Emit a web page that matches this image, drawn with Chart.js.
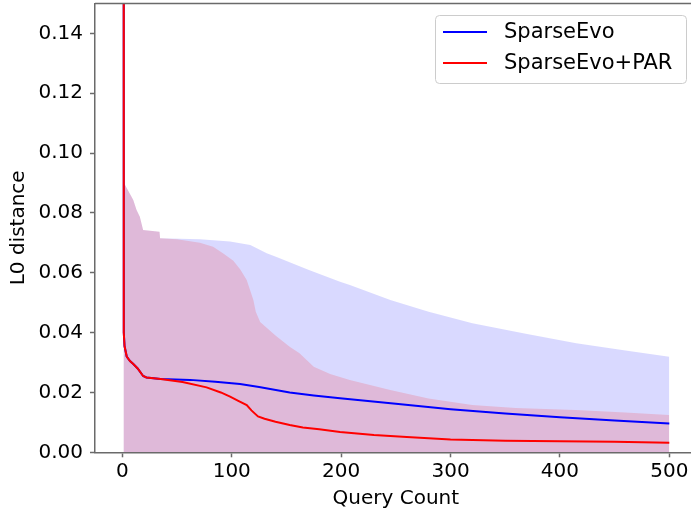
<!DOCTYPE html>
<html>
<head>
<meta charset="utf-8">
<script src="https://cdn.jsdelivr.net/npm/chart.js@4/dist/chart.umd.min.js"></script>
<style>
  html, body { margin: 0; padding: 0; background: #fff; overflow: hidden; }
  #wrap { width: 700px; height: 516px; }
</style>
</head>
<body>
<div id="wrap"><canvas id="c" width="700" height="516"></canvas></div>
<script>
// ---- Data ----
const seriesNames = ["SparseEvo", "SparseEvo+PAR"];
const xTicks = [0, 100, 200, 300, 400, 500];
const yTicks = [0, 0.02, 0.04, 0.06, 0.08, 0.10, 0.12, 0.14];

// SparseEvo+PAR mean curve
const parX    = [1, 1.3, 2, 4, 7, 10, 14, 19, 22, 35, 55, 77, 90, 98.5, 106, 113.7, 118, 124, 130, 140, 153, 165, 180, 199, 230, 260, 300, 350, 400, 450, 500];
const parMean = [0.6, 0.040, 0.0355, 0.032, 0.0305, 0.0295, 0.028, 0.0255, 0.025, 0.0245, 0.0235, 0.0217, 0.0200, 0.0186, 0.0172, 0.0158, 0.0140, 0.0120, 0.0112, 0.0102, 0.0091, 0.0083, 0.0077, 0.0068, 0.0058, 0.0051, 0.0043, 0.0039, 0.0037, 0.0035, 0.0032];

// SparseEvo mean curve (identical to PAR until ~x=22)
const seX    = [1, 1.3, 2, 4, 7, 10, 14, 19, 22, 35, 62, 85, 107.6, 125, 153, 175, 199, 250, 300, 350, 400, 450, 500];
const seMean = [0.6, 0.040, 0.0355, 0.032, 0.0305, 0.0295, 0.028, 0.0255, 0.025, 0.0245, 0.0242, 0.0236, 0.0228, 0.0218, 0.0200, 0.0190, 0.0181, 0.0162, 0.0144, 0.0130, 0.0117, 0.0106, 0.0096];

// Upper bounds of the shaded bands (lower bounds are 0)
const parBandX  = [1, 2.5, 6, 10, 13, 16, 19, 34, 34.5, 50, 71, 83, 92, 101.5, 108, 113.7, 117, 119.8, 122, 126, 140, 153, 162, 175, 190, 208, 245, 280, 320, 360, 415, 460, 500];
const parUpper  = [0.090, 0.0893, 0.087, 0.0843, 0.081, 0.0787, 0.0743, 0.0737, 0.0715, 0.0712, 0.0700, 0.0687, 0.0665, 0.0640, 0.0610, 0.0576, 0.0540, 0.0509, 0.0470, 0.0435, 0.0390, 0.0353, 0.0331, 0.0286, 0.0262, 0.0242, 0.0208, 0.0180, 0.0158, 0.0148, 0.0141, 0.0133, 0.0125];
const seBandX   = [1, 2.5, 6, 10, 13, 16, 19, 34, 34.5, 71, 98.5, 117, 132, 141, 170, 199, 208, 245, 280, 320, 370, 415, 460, 500];
const seUpper   = [0.090, 0.0893, 0.087, 0.0843, 0.081, 0.0787, 0.0743, 0.0737, 0.0715, 0.0712, 0.0704, 0.0693, 0.0665, 0.0653, 0.0610, 0.0570, 0.0559, 0.0509, 0.0470, 0.0431, 0.0395, 0.0364, 0.0340, 0.0319];

const zip = (xs, ys) => xs.map((x, i) => ({ x: x, y: ys[i] }));

const FONT = "'DejaVu Sans', sans-serif";
const AXIS_COLOR = '#6a6a6a';

const legendPlugin = {
  id: 'mplLegend',
  afterDraw(chart) {
    const ctx = chart.ctx;
    const area = chart.chartArea;
    ctx.save();
    // top spine
    ctx.strokeStyle = AXIS_COLOR;
    ctx.lineWidth = 1.5;
    ctx.beginPath();
    ctx.moveTo(area.left, area.top);
    ctx.lineTo(area.right, area.top);
    ctx.stroke();
    // legend box
    const bx = 435.5, by = 15.5, bw = 251, bh = 68, r = 4;
    ctx.fillStyle = 'rgba(255,255,255,0.8)';
    ctx.strokeStyle = '#cccccc';
    ctx.lineWidth = 1;
    ctx.beginPath();
    ctx.roundRect(bx, by, bw, bh, r);
    ctx.fill();
    ctx.stroke();
    const items = [
      { label: seriesNames[0], color: '#0000ff', y: 32 },
      { label: seriesNames[1], color: '#ff0000', y: 63 }
    ];
    ctx.font = '21px ' + FONT;
    ctx.textBaseline = 'middle';
    ctx.textAlign = 'left';
    items.forEach(it => {
      ctx.strokeStyle = it.color;
      ctx.lineWidth = 2;
      ctx.beginPath();
      ctx.moveTo(443, it.y);
      ctx.lineTo(487, it.y);
      ctx.stroke();
      ctx.fillStyle = '#000';
      ctx.fillText(it.label, 504, it.y + 1);
    });
    ctx.restore();
  }
};

new Chart(document.getElementById('c'), {
  type: 'line',
  data: {
    datasets: [
      {
        label: 'SparseEvo band',
        data: zip(seBandX, seUpper),
        fill: 'origin',
        backgroundColor: 'rgba(0,0,255,0.15)',
        borderWidth: 0,
        borderColor: 'rgba(0,0,0,0)',
        pointRadius: 0,
        order: 4
      },
      {
        label: 'SparseEvo+PAR band',
        data: zip(parBandX, parUpper),
        fill: 'origin',
        backgroundColor: 'rgba(255,0,0,0.15)',
        borderWidth: 0,
        borderColor: 'rgba(0,0,0,0)',
        pointRadius: 0,
        order: 3
      },
      {
        label: seriesNames[0],
        data: zip(seX, seMean),
        borderColor: '#0000ff',
        borderWidth: 2,
        pointRadius: 0,
        fill: false,
        tension: 0,
        order: 2
      },
      {
        label: seriesNames[1],
        data: zip(parX, parMean),
        borderColor: '#ff0000',
        borderWidth: 2,
        pointRadius: 0,
        fill: false,
        tension: 0,
        order: 1
      }
    ]
  },
  options: {
    responsive: false,
    animation: false,
    clip: 0,
    layout: { padding: { top: 3.4, right: 3.35, left: 0, bottom: 0 } },
    plugins: {
      legend: { display: false },
      tooltip: { enabled: false }
    },
    scales: {
      x: {
        type: 'linear',
        min: -25,
        max: 525,
        afterFit: s => { s.height = 63.7; s.paddingLeft = 0; s.paddingRight = 0; },
        afterBuildTicks: s => { s.ticks = xTicks.map(v => ({ value: v })); },
        border: { display: true, color: AXIS_COLOR, width: 1.5 },
        grid: { display: true, drawOnChartArea: false, drawTicks: true, tickLength: 5, tickColor: AXIS_COLOR, tickWidth: 1.5 },
        ticks: {
          color: '#000',
          font: { family: FONT, size: 20 },
          padding: 2,
          maxRotation: 0,
          callback: v => String(v)
        },
        title: {
          display: true,
          text: 'Query Count',
          color: '#000',
          font: { family: FONT, size: 20 },
          padding: { top: 0, bottom: 5 }
        }
      },
      y: {
        type: 'linear',
        min: 0,
        max: 0.15,
        afterFit: s => { s.width = 95; s.paddingTop = 0; s.paddingBottom = 0; },
        afterBuildTicks: s => { s.ticks = yTicks.map(v => ({ value: v })); },
        border: { display: true, color: AXIS_COLOR, width: 1.5 },
        grid: { display: true, drawOnChartArea: false, drawTicks: true, tickLength: 5, tickColor: AXIS_COLOR, tickWidth: 1.5 },
        ticks: {
          color: '#000',
          font: { family: FONT, size: 20 },
          padding: 7,
          callback: v => Number(v).toFixed(2)
        },
        title: {
          display: true,
          text: 'L0 distance',
          color: '#000',
          font: { family: FONT, size: 20 },
          padding: { top: 7, bottom: 0 }
        }
      }
    }
  },
  plugins: [legendPlugin]
});
</script>
</body>
</html>
